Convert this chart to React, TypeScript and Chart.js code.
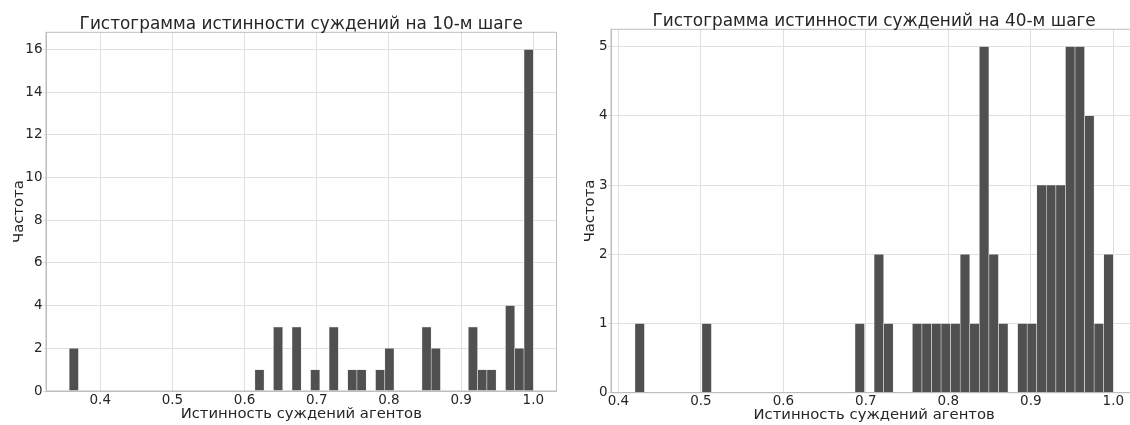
import React, { useEffect, useRef } from "react";
import { Chart, registerables } from "chart.js";

Chart.register(...registerables);

// ---------- data ----------
const xAxisLabel = "Истинность суждений агентов";
const yAxisLabel = "Частота";

const step10Title = "Гистограмма истинности суждений на 10-м шаге";
const step10BinLow = 0.357;
const step10BinHigh = 1.0;
const step10Counts = [
  2, 0, 0, 0, 0, 0, 0, 0, 0, 0,
  0, 0, 0, 0, 0, 0, 0, 0, 0, 0,
  1, 0, 3, 0, 3, 0, 1, 0, 3, 0,
  1, 1, 0, 1, 2, 0, 0, 0, 3, 2,
  0, 0, 0, 3, 1, 1, 0, 4, 2, 16,
];
const step10XTicks = [0.4, 0.5, 0.6, 0.7, 0.8, 0.9, 1.0];
const step10YTicks = [0, 2, 4, 6, 8, 10, 12, 14, 16];

const step40Title = "Гистограмма истинности суждений на 40-м шаге";
const step40BinLow = 0.42;
const step40BinHigh = 1.0;
const step40Counts = [
  1, 0, 0, 0, 0, 0, 0, 1, 0, 0,
  0, 0, 0, 0, 0, 0, 0, 0, 0, 0,
  0, 0, 0, 1, 0, 2, 1, 0, 0, 1,
  1, 1, 1, 1, 2, 1, 5, 2, 1, 0,
  1, 1, 3, 3, 3, 5, 5, 4, 1, 2,
];
const step40XTicks = [0.4, 0.5, 0.6, 0.7, 0.8, 0.9, 1.0];
const step40YTicks = [0, 1, 2, 3, 4, 5];

// ---------- style ----------
const FONT = "'DejaVu Sans', 'Liberation Sans', sans-serif";
const TEXT = "#262626";
const BAR = "#505050";
const BAR_EDGE = "#e4e4e4";
const GRID = "#e0e0e0";
const SPINE = "#bdbdbd";
const TICK_SIZE = 13.5;
const LABEL_SIZE = 14.8;
const TITLE_SIZE = 16.9;

type HistProps = {
  title: string;
  lo: number;
  hi: number;
  counts: number[];
  xTicks: number[];
  yTicks: number[];
  left: number;
  width: number;
  padTop: number;
  padRight: number;
  xAxisHeight: number;
  titleBaseline: number;
  yTitlePad: number;
  xTitlePad: number;
};

function Histogram(p: HistProps) {
  const ref = useRef<HTMLCanvasElement | null>(null);

  useEffect(() => {
    if (!ref.current) return;
    const n = p.counts.length;
    const w = (p.hi - p.lo) / n;
    const margin = (p.hi - p.lo) * 0.05;
    const yMax = Math.max(...p.counts) * 1.05;
    const points = p.counts.map((c, i) => ({ x: p.lo + (i + 0.5) * w, y: c }));

    const titlePlugin = {
      id: "axesTitle",
      afterDraw(chart: any) {
        const { ctx, chartArea } = chart;
        ctx.save();
        ctx.font = `${TITLE_SIZE}px ${FONT}`;
        ctx.fillStyle = TEXT;
        ctx.textAlign = "center";
        ctx.textBaseline = "alphabetic";
        ctx.fillText(p.title, (chartArea.left + chartArea.right) / 2, p.titleBaseline);
        ctx.restore();
      },
    };
    const spinePlugin = {
      id: "spines",
      afterDatasetsDraw(chart: any) {
        const { ctx, chartArea } = chart;
        ctx.save();
        ctx.strokeStyle = SPINE;
        ctx.lineWidth = 1;
        ctx.strokeRect(
          chartArea.left,
          chartArea.top,
          chartArea.right - chartArea.left,
          chartArea.bottom - chartArea.top
        );
        ctx.restore();
      },
    };

    const chart = new Chart(ref.current, {
      type: "bar",
      data: {
        datasets: [
          {
            data: points as any,
            backgroundColor: (ctx: any) => (ctx.raw && ctx.raw.y > 0 ? BAR : "rgba(0,0,0,0)"),
            borderColor: (ctx: any) => (ctx.raw && ctx.raw.y > 0 ? BAR_EDGE : "rgba(0,0,0,0)"),
            borderWidth: (ctx: any) =>
              ctx.raw && ctx.raw.y > 0 ? { top: 0.6, left: 0.6, right: 0.6, bottom: 0 } : 0,
            borderSkipped: "start",
            barPercentage: 1,
            categoryPercentage: 1,
          } as any,
        ],
      },
      options: {
        animation: false,
        responsive: false,
        devicePixelRatio: 1,
        layout: { padding: { top: p.padTop, right: p.padRight, left: 0, bottom: 0 } },
        plugins: {
          legend: { display: false },
          tooltip: { enabled: false },
          title: { display: false },
        },
        scales: {
          x: {
            type: "linear",
            offset: false,
            min: p.lo - margin,
            max: p.hi + margin,
            afterBuildTicks: (s: any) => {
              s.ticks = p.xTicks.map((v) => ({ value: v }));
            },
            afterFit: (s: any) => {
              s.height = p.xAxisHeight;
            },
            ticks: {
              color: TEXT,
              font: { family: FONT, size: TICK_SIZE },
              padding: 1,
              maxRotation: 0,
              autoSkip: false,
              callback: (v: any) => Number(v).toFixed(1),
            },
            grid: { color: GRID, offset: false, drawTicks: false, lineWidth: 1 },
            border: { color: SPINE, width: 1 },
            title: {
              display: true,
              text: xAxisLabel,
              color: TEXT,
              font: { family: FONT, size: LABEL_SIZE },
              padding: { top: 0, bottom: p.xTitlePad },
            },
          } as any,
          y: {
            type: "linear",
            min: 0,
            max: yMax,
            afterBuildTicks: (s: any) => {
              s.ticks = p.yTicks.map((v) => ({ value: v }));
            },
            afterFit: (s: any) => {
              s.width = 46;
            },
            ticks: {
              color: TEXT,
              font: { family: FONT, size: TICK_SIZE },
              padding: 0.5,
              autoSkip: false,
              callback: (v: any) => String(v),
            },
            grid: { color: GRID, drawTicks: true, tickLength: 3, lineWidth: 1 },
            border: { color: SPINE, width: 1 },
            title: {
              display: true,
              text: yAxisLabel,
              color: TEXT,
              font: { family: FONT, size: LABEL_SIZE },
              padding: { top: p.yTitlePad, bottom: 0 },
            },
          } as any,
        },
      },
      plugins: [titlePlugin, spinePlugin],
    });
    return () => chart.destroy();
  }, []);

  return (
    <canvas
      ref={ref}
      width={p.width}
      height={425}
      style={{ position: "absolute", left: p.left, top: 0, width: p.width, height: 425 }}
    />
  );
}

export default function App() {
  return (
    <div
      style={{
        position: "fixed",
        left: 0,
        top: 0,
        width: 1130,
        height: 425,
        overflow: "hidden",
        background: "#ffffff",
      }}
    >
      <Histogram
        title={step10Title}
        lo={step10BinLow}
        hi={step10BinHigh}
        counts={step10Counts}
        xTicks={step10XTicks}
        yTicks={step10YTicks}
        left={0}
        width={565}
        padTop={32.3}
        padRight={8.5}
        xAxisHeight={34}
        titleBaseline={29.3}
        yTitlePad={9.8}
        xTitlePad={2}
      />
      <Histogram
        title={step40Title}
        lo={step40BinLow}
        hi={step40BinHigh}
        counts={step40Counts}
        xTicks={step40XTicks}
        yTicks={step40YTicks}
        left={565}
        width={580}
        padTop={29.3}
        padRight={7.8}
        xAxisHeight={32.3}
        titleBaseline={26}
        yTitlePad={16.5}
        xTitlePad={0.5}
      />
    </div>
  );
}
